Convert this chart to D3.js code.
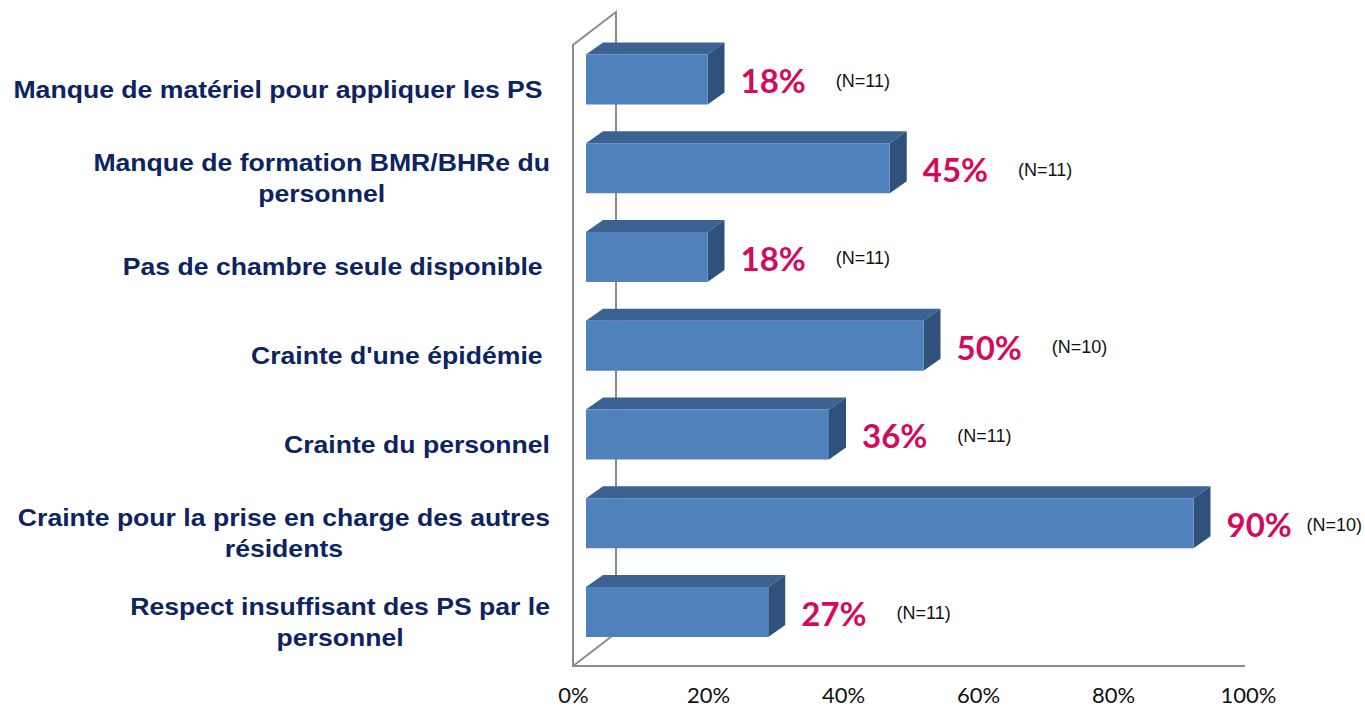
<!DOCTYPE html>
<html>
<head>
<meta charset="utf-8">
<title>Freins</title>
<script src="https://d3js.org/d3.v7.min.js"></script>
<style>
  body { margin: 0; background: #fff; }
  .cat { font-family: "Liberation Sans", Arial, sans-serif; font-weight: bold; font-size: 23px; fill: #0c2461; white-space: pre; }
  .val { font-family: Lato, "Open Sans", sans-serif; font-weight: bold; font-size: 33px; fill: #d40a5e; }
  .n { font-family: "Liberation Sans", Arial, sans-serif; font-size: 18px; fill: #111; }
  .tick text { font-family: Lato, "Open Sans", sans-serif; font-size: 22px; fill: #111; }
  .wall { fill: none; stroke: #8c8c8c; stroke-width: 2; }
</style>
</head>
<body>
<script>
// data
var categories = [
  "Manque de matériel pour appliquer les PS ",
  "Manque de formation BMR/BHRe du\npersonnel",
  "Pas de chambre seule disponible ",
  "Crainte d'une épidémie ",
  "Crainte du personnel",
  "Crainte pour la prise en charge des autres\nrésidents",
  "Respect insuffisant des PS par le\npersonnel"
];
var values = [18, 45, 18, 50, 36, 90, 27];
var counts = [11, 11, 11, 10, 11, 10, 11];
var tickValues = [0, 20, 40, 60, 80, 100];

var width = 1365, height = 710;
var svg = d3.select("body").append("svg")
  .attr("width", width)
  .attr("height", height);

// layout
var wallTop = 45, floorY = 666;
var depthX = 43, depthY = 33;      // wall depth
var barDX = 17, barDY = 12;        // bar depth
var barShift = 13;                 // bars sit a bit back from the front edge
var barH = 50;
var stretch = 1.157;               // labels are drawn a little wide

var x = d3.scaleLinear().domain([0, 100]).range([573, 1248]);
var y = d3.scalePoint().domain(categories).range([79.5, 612]);

// walls (behind the bars)
var x0 = x(0);
svg.append("path").attr("class", "wall")
  .attr("d", "M" + x0 + "," + floorY + "L" + x0 + "," + wallTop +
             "L" + (x0 + depthX) + "," + (wallTop - depthY) +
             "L" + (x0 + depthX) + "," + (floorY - depthY));
svg.append("path").attr("class", "wall")
  .attr("d", "M" + x0 + "," + floorY + "L" + (x0 + depthX) + "," + (floorY - depthY));
svg.append("line").attr("class", "wall")
  .attr("x1", x0 - 1).attr("x2", x(100) - 3)
  .attr("y1", floorY).attr("y2", floorY);

// bars
var rows = categories.map(function (c, i) {
  return { cat: c, v: values[i], n: counts[i] };
});

var bar = svg.selectAll("g.bar").data(rows).enter().append("g").attr("class", "bar");

function bx0() { return x(0) + barShift; }
function bx1(d) { return x(d.v) + barShift; }
function by(d) { return y(d.cat) - barH / 2; }

bar.append("path") // top face
  .attr("fill", "#3c6292")
  .attr("d", function (d) {
    return "M" + bx0() + "," + by(d) + "L" + (bx0() + barDX) + "," + (by(d) - barDY) +
           "L" + (bx1(d) + barDX) + "," + (by(d) - barDY) + "L" + bx1(d) + "," + by(d) + "Z";
  });
bar.append("path") // side face
  .attr("fill", "#30517c")
  .attr("d", function (d) {
    return "M" + bx1(d) + "," + by(d) + "L" + (bx1(d) + barDX) + "," + (by(d) - barDY) +
           "L" + (bx1(d) + barDX) + "," + (by(d) + barH - barDY) + "L" + bx1(d) + "," + (by(d) + barH) + "Z";
  });
bar.append("rect") // front face
  .attr("fill", "#4f81bd")
  .attr("x", bx0)
  .attr("y", by)
  .attr("width", function (d) { return bx1(d) - bx0(); })
  .attr("height", barH);

// value labels
bar.append("text").attr("class", "val")
  .attr("x", function (d) { return bx1(d) + 33; })
  .attr("y", function (d) { return y(d.cat) + 2; })
  .attr("dy", "0.36em")
  .text(function (d) { return d.v + "%"; });

// N labels
bar.each(function (d) {
  var g = d3.select(this);
  var bb = g.select("text.val").node().getBBox();
  var t = g.append("text").attr("class", "n")
    .attr("y", y(d.cat) + 1)
    .attr("dy", "0.35em")
    .text("(N=" + d.n + ")");
  var w = t.node().getComputedTextLength();
  t.attr("x", Math.min(bb.x + bb.width + 30, width - 3 - w));
});

// category labels, right edge at 550, multi-line centred
var labelRight = 550, lineGap = 31;
svg.selectAll("g.cat").data(rows).enter().append("g")
  .attr("transform", "translate(" + labelRight + ",0) scale(" + stretch + ",1)")
  .each(function (d) {
    var g = d3.select(this);
    var lines = d.cat.split("\n");
    var cy = y(d.cat) + 10;
    var texts = lines.map(function (l, i) {
      return g.append("text").attr("class", "cat")
        .attr("y", cy + (i - (lines.length - 1) / 2) * lineGap)
        .attr("dy", "0.36em")
        .text(l);
    });
    var maxW = d3.max(texts, function (t) { return t.node().getComputedTextLength(); });
    texts.forEach(function (t) {
      t.attr("text-anchor", "middle").attr("x", -maxW / 2);
    });
  });

// x axis labels
var xAxis = d3.axisBottom(x).tickValues(tickValues).tickSize(0).tickPadding(21)
  .tickFormat(function (d) { return d + "%"; });
svg.append("g").attr("transform", "translate(0," + floorY + ")")
  .call(xAxis)
  .call(function (g) { g.select(".domain").remove(); });
</script>
</body>
</html>
